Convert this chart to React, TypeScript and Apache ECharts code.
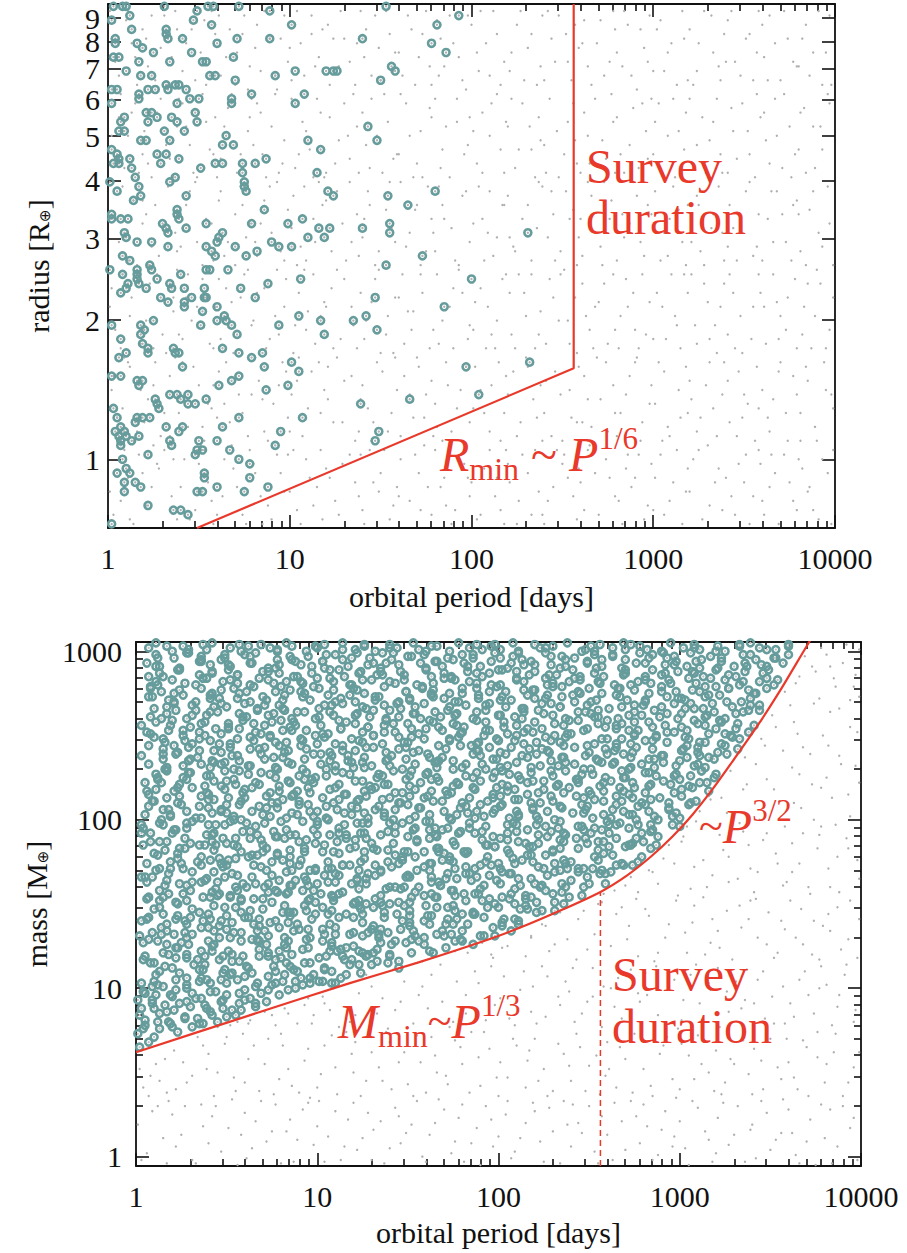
import React, { useEffect, useRef } from 'react';
import * as echarts from 'echarts';

const SERIF = 'Liberation Serif';
const RED = '#e8392b';
const TEAL = '#679c9c';
const GRAY = '#b0b0b0';
const INK = '#111111';

// axis ticks
const X_TICKS = [1, 10, 100, 1000, 10000];
const X_MINOR = [2, 3, 4, 5, 6, 7, 8, 9, 20, 30, 40, 50, 60, 70, 80, 90, 200, 300, 400, 500, 600, 700, 800, 900, 2000, 3000, 4000, 5000, 6000, 7000, 8000, 9000];
const RADIUS_TICKS = [1, 2, 3, 4, 5, 6, 7, 8, 9];
const RADIUS_LABELS_A = [1, 2, 3, 4, 5, 6, 7, 9];
const RADIUS_LABELS_B = [8];
const MASS_TICKS = [1, 10, 100, 1000];
const MASS_MINOR = [2, 3, 4, 5, 6, 7, 8, 9, 20, 30, 40, 50, 60, 70, 80, 90, 200, 300, 400, 500, 600, 700, 800, 900];

// ranges
const P_RANGE = [1, 10000];
const R_RANGE = [0.71, 9.66];
const M_RANGE = [0.88, 1135];
const SURVEY_DAYS = 365;

// Planets, flat pairs in hundredths of a decade: log10(P)*100, log10(R or M)*100
const radiusDetected = [
3,98, 8,98, 10,98, 12,96, 31,98, 49,97, 55,98, 58,98, 72,98, 89,97, 101,94, 2,95, 13,93, 32,93, 32,92, 33,91, 41,91, 47,95, 57,94, 71,91,
89,91, 4,91, 4,90, 16,90, 19,89, 25,88, 3,87, 6,87, 17,86, 34,86, 46,88, 52,86, 54,86, 60,90, 69,87, 10,84, 18,83, 24,83, 92,83, 103,84,
120,84, 126,84, 2,80, 5,80, 17,79, 17,78, 22,80, 26,80, 32,81, 33,80, 37,81, 39,81, 43,80, 45,78, 50,78, 56,83, 59,83, 70,82, 79,79, 68,78,
68,77, 103,77, 108,79, 2,77, 21,75, 24,75, 27,74, 22,73, 35,74, 38,73, 38,77, 48,75, 49,73, 7,73, 9,74, 6,71, 9,71, 31,71, 34,69, 42,71,
18,69, 21,69, 63,68, 65,70, 69,68, 110,69, 117,67, 2,67, 5,66, 6,65, 12,65, 6,64, 3,64, 27,66, 29,64, 32,66, 39,65, 51,63, 59,64, 63,64,
74,64, 74,62, 81,64, 87,65, 115,62, 13,63, 15,61, 17,59, 34,60, 37,61, 1,60, 5,58, 75,60, 75,59, 76,58, 43,57, 18,57, 14,56, 38,54, 38,53,
39,52, 43,50, 54,51, 63,49, 61,48, 60,47, 79,51, 86,54, 107,52, 121,58, 124,57, 2,53, 2,52, 7,52, 11,52, 9,49, 10,48, 16,47, 24,47, 30,51,
32,50, 33,49, 33,46, 54,46, 57,45, 59,44, 54,41, 56,41, 66,41, 70,46, 76,44, 82,45, 90,47, 94,46, 99,51, 101,46, 110,48, 119,48, 122,50, 116,50,
1,41, 8,44, 12,43, 16,41, 16,40, 23,42, 24,41, 8,40, 7,36, 11,38, 10,37, 16,39, 17,38, 21,37, 27,39, 29,35, 33,34, 34,38, 35,37, 40,40,
42,37, 42,34, 42,33, 46,35, 53,35, 54,35, 52,32, 53,37, 60,33, 60,30, 64,31, 65,30, 68,29, 71,27, 73,37, 81,35, 88,38, 94,29, 106,39, 105,31,
117,30, 119,27, 2,29, 7,26, 18,29, 20,28, 18,27, 19,25, 22,24, 22,23, 25,30, 6,22, 10,23, 36,24, 37,23, 39,23, 41,20, 51,29, 63,24, 72,23,
79,22, 85,23, 86,20, 101,21, 105,19, 2,18, 7,18, 16,17, 17,16, 19,17, 26,13, 27,12, 28,11, 34,14, 38,14, 40,13, 44,14, 44,12, 48,12, 54,13,
61,16, 68,17, 72,18, 87,15, 99,16, 107,9, 3,11, 5,9, 7,7, 9,6, 15,8, 16,9, 19,9, 23,9, 32,7, 39,6, 41,7, 63,7, 72,9, 4,6,
6,5, 10,5, 7,4, 7,3, 13,4, 17,5, 22,1, 34,4, 35,3, 48,1, 49,2, 50,4, 52,2, 60,4, 67,2, 72,0, 78,-1, 92,3, 95,6, 8,0,
10,-2, 12,-3, 5,-3, 9,-5, 9,-7, 15,-5, 18,-6, 22,-10, 36,-11, 40,-11, 44,-12, 49,-7, 53,-4, 53,-3, 52,-7, 60,-6, 75,-7, 78,-4, 88,-6, 2,-14,
153,98, 193,96, 181,94, 140,91, 178,90, 186,88, 156,85, 158,84, 150,82, 124,84, 143,72, 148,69, 154,57, 165,55, 180,58, 140,50, 155,51, 155,49, 231,49, 173,44,
153,42, 200,39, 147,35, 142,31, 135,30, 148,28, 185,33, 197,20, 232,21, 139,12, 166,13, 204,14, 149,6, 147,4
];

const radiusUndetected = [
3,-12, 11,-4, 17,1, 7,-9, 14,-14, 24,-6, 31,2, 38,-13, 27,-1, 35,-8, 42,0, 48,-11, 55,-5, 51,3, 58,-14, 63,-8, 69,-2, 74,-12, 78,2, 66,-15,
81,-3, 88,-10, 93,1, 97,-7, 85,-14, 104,-11, 109,0, 115,-6, 118,-13, 102,2, 122,-4, 127,-12, 133,1, 138,-8, 129,-1, 141,-14, 146,-5, 152,2, 157,-10, 149,-7,
161,0, 166,-9, 171,-3, 178,-12, 174,3, 183,-6, 189,-14, 194,1, 198,-4, 186,-10, 203,-13, 207,-2, 213,-8, 219,2, 216,-11, 221,-5, 228,1, 233,-12, 237,-7, 225,-14,
242,-9, 247,2, 253,-4, 258,-13, 250,-1, 262,-11, 268,-3, 274,0, 279,-8, 265,3, 283,-14, 288,-6, 292,1, 297,-10, 285,-2, 301,-4, 306,-12, 313,2, 318,-7, 309,-9,
322,0, 327,-13, 334,-5, 338,-11, 330,3, 343,-8, 347,-1, 353,-14, 358,2, 350,-5, 361,-12, 367,-3, 372,1, 377,-9, 364,-6, 382,-2, 388,-11, 393,0, 398,-14, 385,-7,
5,9, 12,20, 2,15, 16,6, 9,22, 22,13, 29,5, 34,18, 39,10, 26,21, 44,7, 50,16, 57,11, 41,21, 53,4, 61,19, 67,8, 72,14, 77,5, 64,12,
83,17, 86,6, 91,12, 96,21, 99,9, 101,14, 107,5, 112,19, 117,10, 105,22, 124,8, 130,17, 136,4, 139,13, 121,20, 143,11, 148,21, 154,6, 159,15, 145,4,
163,18, 168,9, 175,14, 179,5, 170,22, 181,7, 187,16, 192,11, 197,20, 184,4, 205,15, 210,6, 215,21, 218,10, 201,11, 223,19, 227,8, 234,13, 239,4, 230,22,
244,5, 249,14, 255,9, 259,20, 241,17, 264,13, 269,22, 275,6, 278,16, 261,8, 282,10, 287,18, 293,4, 298,12, 290,21, 303,21, 308,7, 314,15, 319,10, 305,4,
324,6, 329,16, 333,11, 339,21, 321,13, 341,17, 346,5, 352,12, 357,20, 349,9, 363,9, 369,19, 374,4, 379,14, 366,13, 384,20, 389,7, 395,15, 399,11, 381,4,
4,28, 13,35, 8,40, 18,25, 1,33, 23,38, 30,27, 36,32, 25,24, 38,41, 46,30, 52,39, 56,25, 43,35, 59,33, 62,26, 68,34, 75,40, 79,29, 65,37,
82,36, 87,24, 92,31, 98,39, 94,27, 103,29, 108,41, 114,25, 119,34, 110,32, 123,37, 128,26, 134,33, 137,24, 126,41, 142,30, 147,39, 153,27, 158,35, 150,23,
162,40, 167,28, 173,36, 177,24, 165,32, 182,25, 188,33, 193,41, 199,29, 190,37, 202,34, 208,24, 214,30, 217,39, 211,27, 222,27, 229,36, 235,24, 238,32, 226,40,
243,39, 248,30, 254,25, 257,35, 251,41, 263,31, 267,24, 273,38, 279,28, 270,34, 281,24, 286,33, 294,40, 296,27, 289,36, 302,36, 307,26, 312,31, 317,40, 315,24,
323,29, 328,38, 335,23, 337,33, 331,26, 342,40, 348,31, 354,26, 359,36, 345,24, 362,25, 368,34, 373,28, 378,39, 370,31, 383,33, 387,24, 392,38, 397,28, 390,41,
6,47, 14,56, 3,60, 11,43, 19,51, 21,53, 28,44, 33,59, 37,49, 24,46, 45,58, 49,47, 54,52, 58,43, 41,50, 64,44, 70,53, 73,59, 76,48, 61,56,
84,51, 89,59, 95,45, 99,54, 81,47, 102,57, 106,46, 113,52, 116,60, 109,43, 121,48, 126,58, 131,43, 137,53, 134,47, 144,55, 149,45, 155,60, 156,50, 141,52,
164,46, 169,54, 172,42, 176,59, 179,49, 185,52, 191,43, 195,57, 199,47, 182,59, 204,59, 209,49, 212,44, 218,55, 206,52, 224,45, 231,55, 236,50, 239,59, 221,48,
245,53, 246,43, 252,58, 259,48, 256,54, 266,57, 271,46, 276,52, 261,44, 273,60, 284,48, 291,57, 295,44, 299,53, 287,51, 304,43, 309,52, 311,59, 316,47, 319,55,
325,55, 326,45, 332,50, 336,59, 339,43, 344,50, 351,58, 355,44, 358,53, 341,46, 365,58, 366,47, 371,53, 376,43, 379,56, 381,45, 386,54, 391,49, 396,59, 399,42,
2,70, 9,63, 15,77, 19,66, 6,74, 22,64, 27,75, 32,68, 39,78, 36,61, 43,72, 47,62, 52,79, 56,67, 59,74, 62,65, 66,76, 71,62, 77,71, 79,78,
82,77, 85,66, 90,72, 94,62, 97,69, 103,63, 107,73, 111,67, 115,78, 119,61, 122,74, 125,64, 132,70, 135,79, 138,62, 142,68, 145,78, 151,62, 154,73, 159,66,
161,79, 166,70, 170,64, 177,76, 173,61, 183,63, 186,72, 192,78, 196,66, 199,74, 201,71, 206,62, 211,77, 216,67, 219,73, 222,78, 226,67, 232,72, 235,61, 238,69,
241,62, 247,71, 251,66, 256,77, 258,64, 262,75, 265,64, 272,69, 277,79, 279,62, 282,66, 289,76, 292,63, 296,71, 299,78, 301,73, 305,62, 311,78, 317,67, 314,71,
321,64, 327,74, 331,69, 338,62, 335,78, 343,76, 346,65, 352,71, 356,61, 359,74, 362,69, 367,78, 371,63, 375,72, 378,66, 384,62, 388,72, 393,67, 397,77, 381,75,
4,86, 10,95, 16,81, 13,90, 1,97, 21,91, 26,82, 31,96, 35,87, 38,93, 41,84, 46,93, 51,88, 57,97, 54,81, 61,96, 65,87, 70,81, 74,92, 78,85,
81,89, 86,97, 92,83, 95,91, 99,86, 101,82, 106,90, 112,96, 114,85, 118,93, 121,94, 127,85, 130,91, 136,81, 139,97, 141,87, 147,96, 150,82, 155,92, 158,88,
162,83, 167,93, 171,87, 175,97, 178,81, 181,95, 185,85, 190,90, 195,82, 198,96, 203,88, 205,97, 210,83, 214,92, 218,86, 221,84, 225,94, 231,89, 236,81, 239,96,
242,97, 246,86, 252,92, 255,82, 259,89, 261,90, 266,81, 271,95, 276,86, 279,93, 283,85, 286,94, 291,80, 295,89, 298,96, 302,93, 306,84, 310,90, 316,97, 319,82,
322,81, 325,90, 332,96, 336,85, 339,92, 341,95, 345,86, 351,91, 355,82, 358,97, 361,87, 364,96, 370,82, 374,91, 379,85, 382,91, 386,83, 391,97, 395,88, 398,81
];

const radiusUndetectedMore = [
1,-7, 6,0, 12,-13, 19,-3, 9,2, 21,-10, 28,-2, 33,-15, 36,0, 25,3, 40,-6, 45,-13, 50,-1, 57,-9, 53,2, 60,-12, 64,0, 71,-6, 76,-14, 68,3,
80,-1, 84,-8, 90,-13, 95,-3, 99,1, 100,-7, 106,-14, 111,-4, 117,2, 113,-10, 120,-2, 125,-9, 131,-15, 136,-5, 139,1, 140,-11, 144,2, 150,-3, 155,-13, 159,-6,
160,-8, 164,-15, 169,1, 176,-6, 172,-11, 180,2, 185,-4, 191,-11, 196,-1, 199,-8, 200,-5, 205,-12, 210,2, 214,-4, 218,-14, 220,-1, 226,-9, 231,-3, 235,2, 239,-12,
240,-14, 245,-6, 251,1, 256,-8, 259,-2, 260,-5, 264,2, 270,-12, 276,-4, 272,-15, 281,-9, 286,1, 290,-4, 295,-13, 299,-1, 300,-11, 304,1, 311,-5, 316,-14, 319,-2,
320,-7, 325,2, 331,-10, 336,-2, 339,-15, 340,-4, 345,-12, 351,1, 355,-8, 359,-1, 360,-9, 365,1, 369,-14, 375,-5, 379,-11, 380,0, 386,-6, 391,-13, 396,-3, 399,2,
3,18, 8,11, 14,4, 18,15, 11,21, 20,8, 25,16, 31,10, 37,22, 34,5, 42,14, 47,20, 52,7, 58,16, 55,12, 60,9, 65,21, 70,17, 74,10, 79,14,
81,22, 85,13, 88,4, 94,16, 98,19, 100,6, 104,17, 110,11, 116,21, 119,15, 121,13, 126,22, 129,8, 134,18, 138,6, 140,16, 146,8, 151,19, 156,10, 158,22,
161,5, 166,14, 171,20, 174,9, 178,17, 180,12, 186,21, 189,6, 194,15, 199,8, 202,20, 207,10, 211,16, 216,4, 219,18, 220,14, 225,5, 231,20, 236,9, 238,16,
240,10, 246,19, 250,4, 254,15, 258,8, 262,18, 266,7, 271,13, 274,21, 279,10, 280,5, 285,14, 291,22, 294,8, 299,16, 301,12, 306,19, 309,5, 315,9, 318,20,
320,17, 326,9, 331,21, 335,5, 338,14, 342,8, 347,19, 350,14, 356,4, 358,11, 360,15, 364,6, 370,21, 373,10, 377,18, 381,10, 385,17, 390,4, 394,21, 398,14,
2,37, 7,24, 12,31, 17,40, 19,28, 21,30, 27,40, 32,23, 36,35, 39,27, 41,26, 44,40, 49,33, 55,37, 58,24, 61,39, 66,29, 69,23, 73,35, 77,41,
80,30, 86,37, 89,26, 93,41, 97,33, 102,23, 105,36, 109,28, 113,40, 117,31, 120,33, 124,24, 130,39, 135,29, 139,36, 141,26, 145,34, 149,41, 154,31, 157,23,
160,35, 163,25, 168,32, 172,40, 179,28, 181,40, 184,30, 190,24, 195,36, 198,26, 201,28, 205,37, 209,33, 213,24, 219,40, 221,36, 224,24, 230,31, 233,40, 237,27,
241,25, 245,35, 249,40, 253,30, 258,23, 261,38, 265,28, 268,33, 275,25, 278,40, 282,31, 285,39, 290,28, 292,24, 298,34, 300,26, 305,33, 310,40, 313,29, 319,36,
321,40, 324,25, 330,34, 334,29, 339,38, 341,27, 344,36, 349,23, 355,33, 358,40, 361,33, 366,40, 369,26, 374,35, 379,24, 382,27, 385,38, 389,31, 395,24, 399,35,
1,52, 8,59, 12,48, 16,42, 19,56, 22,42, 26,55, 30,50, 35,60, 38,45, 40,46, 43,55, 48,60, 52,42, 57,51, 62,58, 66,47, 70,42, 74,55, 78,51,
82,44, 86,56, 90,49, 93,60, 97,43, 101,50, 104,42, 108,59, 114,47, 118,55, 120,56, 123,45, 129,51, 133,60, 138,44, 140,48, 143,58, 147,42, 153,54, 158,47,
161,60, 166,49, 170,55, 175,45, 178,52, 180,45, 184,55, 189,50, 193,42, 197,58, 201,51, 207,43, 210,58, 214,48, 217,55, 220,57, 223,46, 228,52, 233,43, 237,60,
242,48, 244,58, 249,45, 254,52, 258,42, 260,52, 264,60, 268,49, 272,42, 277,56, 280,43, 283,53, 289,60, 293,47, 297,55, 301,58, 306,49, 308,44, 314,54, 318,42,
321,47, 324,57, 328,42, 333,53, 338,49, 342,55, 346,43, 349,49, 353,60, 357,46, 360,43, 363,52, 368,58, 373,47, 377,55, 380,53, 384,42, 388,58, 393,46, 397,51,
4,65, 7,79, 11,70, 17,62, 13,75, 20,71, 24,61, 29,78, 34,65, 38,72, 41,77, 45,68, 49,61, 54,73, 58,66, 60,61, 64,72, 68,79, 73,66, 78,74,
80,68, 84,75, 87,61, 92,79, 96,64, 101,78, 105,66, 109,71, 113,61, 117,75, 120,62, 127,69, 130,77, 133,65, 137,72, 140,75, 144,63, 148,70, 152,79, 157,65,
160,66, 164,77, 168,61, 172,71, 178,74, 180,78, 184,67, 188,61, 192,73, 198,68, 203,64, 206,75, 210,70, 214,79, 218,62, 220,72, 224,63, 228,77, 233,67, 237,74,
240,68, 243,78, 248,61, 253,73, 257,69, 260,62, 264,70, 268,78, 274,65, 278,73, 280,74, 284,62, 287,68, 294,77, 297,65, 300,66, 303,77, 308,70, 312,61, 318,75,
320,78, 324,68, 329,62, 333,73, 337,66, 341,62, 344,71, 349,77, 353,66, 357,79, 361,75, 364,64, 368,70, 372,79, 376,61, 380,67, 383,76, 389,63, 392,72, 396,79,
2,91, 6,83, 11,97, 15,87, 19,93, 22,85, 24,96, 29,89, 33,81, 37,97, 43,90, 48,82, 53,95, 56,86, 59,92, 62,83, 67,93, 71,88, 75,96, 77,80,
82,94, 84,84, 89,91, 93,80, 97,96, 100,89, 104,97, 108,83, 112,92, 116,87, 122,81, 124,91, 128,97, 133,86, 137,90, 142,93, 145,83, 149,89, 153,97, 157,84,
160,88, 165,96, 169,81, 173,92, 177,85, 182,83, 183,91, 188,96, 193,87, 197,80, 200,94, 204,84, 208,90, 212,97, 216,81, 222,88, 227,97, 229,82, 233,92, 238,85,
240,82, 244,91, 248,96, 253,86, 257,94, 262,95, 264,85, 269,90, 273,83, 278,97, 280,88, 284,97, 288,83, 293,93, 297,86, 300,84, 304,95, 308,88, 313,81, 317,91,
320,93, 324,84, 328,97, 333,88, 337,82, 340,86, 343,97, 348,83, 353,92, 357,88, 360,94, 363,82, 367,90, 372,97, 377,86, 380,85, 384,94, 388,88, 393,81, 397,96
];

const massDetected = [
2,65, 7,68,
1,73, 5,78, 10,71, 13,76, 19,79, 23,74, 31,77, 37,79,
2,84, 5,81, 10,88, 13,85, 18,80, 21,87, 27,83, 30,89, 34,82, 41,86, 45,80, 48,88, 55,84, 58,87, 66,89,
1,93, 4,98, 9,91, 11,96, 16,90, 20,95, 22,99, 28,92, 31,97, 36,94, 38,90, 44,98, 48,93, 50,96, 57,91, 60,99, 63,94, 69,97, 72,92, 79,96, 84,99,
3,103, 9,101, 10,104, 15,101, 22,105, 24,109, 28,102, 36,106, 39,105, 41,103, 47,105, 52,108, 53,109, 60,107, 64,109, 67,103, 75,102, 77,103, 82,108, 88,104, 91,106, 92,102, 96,106, 103,104, 108,103, 110,103, 116,108, 124,109,
4,117, 5,119, 10,115, 13,110, 20,112, 22,118, 28,118, 32,114, 37,111, 38,119, 46,117, 49,111, 53,116, 59,119, 61,113, 68,119, 73,119, 76,113, 77,117, 83,115, 87,111, 89,110, 96,115, 101,118, 104,112, 108,110, 114,119, 115,117, 123,114, 127,119, 130,114, 133,116, 139,115, 140,119, 145,112,
4,127, 12,128, 15,121, 17,126, 23,124, 28,120, 29,126, 36,122, 40,128, 43,126, 51,122, 53,120, 58,128, 64,129, 67,129, 68,128, 72,126, 79,122, 84,128, 86,120, 92,123, 95,124, 103,128, 107,122, 108,125, 113,123, 116,124, 123,122, 125,121, 131,121, 135,127, 140,120, 141,126, 149,127, 152,129, 156,128, 162,122, 164,121, 171,124, 176,128, 180,128, 186,126,
2,131, 9,133, 14,132, 17,138, 21,132, 27,133, 28,130, 36,136, 40,136, 43,134, 46,137, 52,130, 53,139, 58,133, 65,138, 67,134, 71,134, 79,136, 82,130, 84,139, 90,135, 95,135, 96,130, 103,135, 107,138, 110,132, 118,132, 120,133, 125,131, 131,137, 134,132, 135,135, 139,133, 146,135, 151,139, 153,134, 159,130, 162,138, 170,131, 174,132, 175,138, 180,134, 183,138, 190,131, 192,131, 198,131, 202,137, 207,134, 211,138,
3,140, 7,142, 13,148, 15,144, 22,141, 27,140, 30,142, 31,147, 37,140, 41,141, 43,149, 50,143, 55,148, 58,145, 62,142, 68,141, 70,147, 77,140, 81,145, 84,145, 87,145, 93,149, 94,146, 99,144, 106,144, 108,146, 112,142, 120,142, 123,149, 125,144, 131,148, 136,149, 137,145, 144,144, 148,149, 151,143, 159,140, 161,143, 166,148, 172,141, 175,149, 176,146, 180,144, 187,144, 192,142, 194,148, 200,148, 203,141, 211,140, 215,149, 216,147, 221,145, 224,146, 231,146,
6,153, 7,154, 15,154, 18,156, 22,151, 28,152, 30,158, 37,154, 42,157, 45,155, 46,156, 52,154, 56,158, 58,152, 65,153, 70,153, 73,157, 77,158, 83,156, 84,157, 92,158, 96,153, 99,151, 102,156, 108,155, 109,152, 114,157, 121,151, 123,152, 127,150, 135,151, 138,159, 140,150, 146,159, 151,151, 152,154, 159,155, 163,156, 166,154, 174,158, 176,155, 181,156, 187,156, 190,159, 191,152, 195,153, 202,154, 207,156, 209,150, 215,153, 218,154, 226,158, 230,156, 231,151, 236,150, 239,154, 246,155,
5,166, 9,166, 17,164, 18,168, 24,162, 28,161, 31,163, 36,163, 43,169, 45,163, 49,166, 55,160, 56,167, 59,162, 64,166, 71,160, 73,162, 79,164, 83,169, 86,161, 94,164, 95,161, 100,162, 104,167, 110,163, 112,167, 119,162, 122,164, 127,165, 128,168, 132,167, 140,160, 143,160, 149,166, 151,166, 156,160, 163,166, 167,163, 168,161, 171,165, 177,165, 182,168, 184,168, 192,161, 195,167, 199,164, 206,168, 207,168, 212,161, 218,165, 220,162, 223,160, 231,169, 235,162, 237,160, 244,169, 249,166, 250,162, 256,168, 259,162, 262,169,
6,174, 11,170, 12,179, 19,171, 23,177, 26,171, 34,175, 36,173, 41,176, 47,174, 50,173, 51,176, 55,177, 62,178, 67,179, 69,172, 75,175, 78,179, 86,170, 90,173, 91,176, 96,170, 99,170, 106,171, 108,171, 114,173, 118,173, 123,170, 124,175, 132,173, 135,170, 139,175, 145,174, 147,178, 154,178, 159,172, 162,170, 163,174, 169,176, 173,176, 175,175, 182,172, 187,171, 190,173, 194,178, 200,174, 201,171, 209,174, 213,176, 216,179, 219,175, 225,171, 226,179, 231,174, 238,171, 240,175, 244,171, 252,171, 255,176, 257,170, 263,179, 268,174, 269,173, 274,173, 279,178,
4,185, 8,187, 16,182, 17,187, 23,180, 27,183, 30,186, 35,185, 42,187, 44,185, 48,189, 54,185, 55,189, 58,181, 63,189, 70,185, 72,183, 78,180, 82,189, 85,182, 93,181, 94,188, 99,186, 103,181, 109,181, 111,187, 118,183, 121,188, 126,181, 127,189, 131,183, 139,182, 142,186, 148,181, 150,181, 155,187, 162,189, 166,183, 167,181, 170,180, 176,185, 181,181, 183,181, 191,188, 194,185, 198,184, 205,188, 206,180, 211,187, 217,184, 219,184, 222,186, 230,182, 234,183, 236,187, 243,189, 248,189, 249,186, 255,182, 258,187, 261,184, 265,189, 273,185, 274,186, 280,187, 284,183, 287,185,
3,197, 4,195, 8,192, 15,197, 20,192, 22,194, 28,198, 31,199, 39,191, 43,192, 44,197, 49,197, 52,199, 59,193, 61,198, 67,191, 71,198, 76,193, 77,190, 85,191, 88,191, 92,199, 98,194, 100,199, 107,191, 112,192, 115,197, 116,191, 122,198, 126,192, 128,198, 135,191, 140,198, 143,192, 147,198, 153,194, 154,195, 162,199, 166,190, 169,194, 172,195, 178,192, 179,193, 184,195, 191,193, 193,196, 197,190, 205,192, 208,198, 210,197, 216,194, 221,197, 222,191, 229,193, 233,195, 236,192, 244,196, 246,196, 251,192, 257,194, 260,199, 261,197, 265,197, 272,195, 277,197, 279,192, 285,194, 288,190, 296,197, 300,196,
5,203, 7,208, 14,200, 18,206, 19,202, 25,209, 28,205, 36,201, 40,207, 42,204, 47,206, 54,202, 57,209, 58,200, 64,205, 68,208, 70,203, 78,207, 83,201, 86,204, 90,209, 96,205, 98,202, 105,208, 106,200, 111,206, 119,203, 122,207, 126,204, 128,201, 134,208, 137,204, 142,200, 143,206, 150,209, 154,202, 156,207, 162,203, 170,205, 173,201, 174,200, 179,207, 183,204, 190,209, 192,202, 198,206, 201,208, 206,201, 210,205, 211,203, 219,207, 221,202, 227,205, 231,200, 234,208, 241,204, 246,209, 248,206, 252,201, 258,203, 263,206, 265,209, 272,203, 276,200, 277,208, 283,205, 286,202, 294,207, 298,204, 300,201, 305,209,
7,215, 10,211, 11,218, 17,213, 21,217, 23,210, 31,219, 36,214, 39,216, 43,212, 49,218, 51,213, 58,211, 59,216, 64,219, 72,214, 75,210, 79,217, 81,212, 87,215, 90,211, 95,219, 96,216, 103,213, 107,218, 109,210, 115,215, 123,212, 126,217, 127,214, 132,219, 136,212, 143,216, 145,210, 151,214, 154,218, 159,213, 163,217, 164,211, 172,215, 174,216, 180,210, 184,213, 187,218, 194,211, 199,219, 201,214, 205,217, 211,212, 216,215, 218,210, 225,218, 229,214, 230,211, 236,216, 239,219, 247,213, 251,215, 253,212, 258,217, 265,214, 268,211, 269,217, 275,219, 279,210, 281,216, 289,213, 294,210, 297,216, 301,214, 307,219, 309,211, 316,217,
5,222, 11,227, 12,224, 17,229, 24,221, 26,225, 30,228, 38,220, 41,226, 43,223, 49,229, 54,224, 55,221, 62,227, 66,222, 69,228, 77,225, 79,220, 84,223, 90,226, 93,224, 94,228, 98,222, 105,226, 110,229, 112,221, 118,227, 121,223, 129,220, 133,225, 134,227, 139,221, 142,229, 149,224, 151,226, 157,222, 161,228, 166,225, 167,223, 175,220, 178,221, 182,226, 188,228, 190,223, 197,225, 202,229, 205,220, 206,227, 212,224, 216,222, 218,228, 225,223, 230,226, 233,221, 237,229, 243,224, 244,222, 252,227, 256,220, 259,225, 262,223, 268,229, 269,225, 274,222, 281,228, 283,220, 287,226, 295,221, 298,227, 300,224, 306,226, 311,222, 312,229, 319,225,
3,238, 7,233, 15,236, 16,230, 22,239, 26,232, 29,235, 34,237, 41,231, 43,234, 47,233, 53,238, 54,230, 57,235, 62,232, 69,239, 71,236, 77,231, 81,237, 84,234, 92,230, 93,236, 98,239, 102,233, 108,238, 110,232, 117,235, 120,231, 125,234, 126,237, 130,232, 138,235, 141,238, 147,230, 149,236, 154,233, 161,239, 165,234, 166,231, 169,237, 175,235, 180,231, 182,233, 190,238, 193,230, 197,236, 204,239, 205,232, 210,234, 216,237, 218,231, 221,239, 229,235, 233,232, 235,237, 242,233, 247,230, 248,238, 254,236, 257,234, 260,239, 264,234, 272,230, 273,237, 279,233, 283,236, 286,231, 291,238, 298,232, 300,235, 304,237, 310,233, 311,238, 314,231, 319,236, 326,239,
7,244, 10,249, 15,242, 16,246, 23,240, 27,247, 29,243, 35,248, 43,241, 46,245, 47,240, 52,245, 56,248, 63,242, 65,247, 71,243, 74,249, 79,244, 83,246, 84,241, 92,247, 94,242, 100,245, 104,249, 107,240, 114,244, 119,248, 121,241, 125,246, 131,243, 136,245, 138,240, 145,249, 149,243, 150,246, 156,241, 159,248, 167,244, 171,242, 173,247, 178,249, 185,244, 188,241, 189,246, 195,243, 199,248, 201,240, 209,247, 214,245, 217,242, 221,246, 227,241, 229,247, 236,244, 237,249, 242,243, 250,240, 253,245, 257,248, 259,242, 265,243, 268,248, 273,245, 274,240, 281,247, 285,242, 287,249, 293,246, 301,241, 304,244, 305,248, 310,243, 314,246, 321,240, 323,245, 329,249, 332,242,
3,256, 8,251, 11,258, 18,253, 20,259, 26,250, 30,255, 35,252, 36,257, 44,254, 47,251, 51,257, 57,254, 59,259, 66,252, 71,256, 74,250, 75,258, 81,253, 85,255, 87,258, 94,253, 99,250, 102,256, 106,251, 112,259, 113,254, 121,257, 125,252, 128,255, 131,250, 137,256, 138,259, 143,252, 150,257, 152,254, 156,251, 164,258, 167,255, 169,253, 175,257, 180,252, 181,255, 188,259, 192,250, 195,253, 203,258, 205,251, 210,256, 216,254, 219,252, 220,258, 224,254, 231,250, 236,256, 238,251, 244,259, 247,253, 255,257, 259,255, 260,259, 265,254, 268,257, 275,251, 277,253, 283,258, 287,250, 292,256, 293,252, 301,255, 304,253, 308,259, 314,256, 316,251, 323,258, 328,250, 331,254, 332,257, 338,252,
8,261, 10,266, 17,263, 21,269, 22,265, 28,260, 31,268, 39,262, 43,267, 45,264, 50,267, 57,263, 60,269, 61,261, 67,265, 71,268, 73,262, 81,266, 86,260, 89,264, 93,264, 99,260, 101,266, 108,268, 109,262, 114,269, 122,263, 125,267, 129,261, 131,265, 137,268, 140,265, 145,261, 146,266, 153,263, 157,260, 159,269, 165,264, 173,267, 176,262, 177,263, 182,268, 186,260, 193,265, 195,269, 201,262, 204,267, 209,261, 213,266, 214,264, 222,265, 224,269, 230,262, 234,267, 237,260, 244,264, 249,268, 251,263, 255,261, 261,266, 266,260, 268,267, 275,264, 279,262, 280,268, 286,265, 289,261, 297,269, 301,263, 303,266, 308,266, 315,262, 318,269, 319,264, 325,260, 329,267, 331,263, 339,268, 344,265,
8,279, 9,273, 14,276, 18,271, 24,277, 26,274, 33,270, 36,278, 41,272, 42,275, 46,272, 54,278, 57,275, 63,270, 65,279, 70,273, 77,276, 81,271, 82,274, 85,277, 91,276, 96,271, 98,279, 106,274, 109,277, 113,272, 120,278, 121,270, 126,275, 132,273, 134,273, 137,279, 145,270, 149,276, 151,271, 158,278, 163,274, 164,277, 170,272, 173,275, 176,270, 180,275, 188,278, 189,272, 195,276, 199,279, 202,273, 207,271, 214,277, 216,274, 220,277, 226,272, 227,274, 230,279, 235,273, 242,270, 244,276, 250,278, 254,271, 257,275, 265,274, 266,278, 271,271, 275,277, 281,270, 283,275, 290,279, 293,273, 298,276, 299,272, 303,271, 311,276, 314,273, 320,279, 322,274, 327,278, 334,270, 338,277, 339,272, 342,275, 348,278,
7,285, 12,280, 13,287, 20,283, 24,289, 27,281, 35,286, 37,284, 42,288, 48,282, 51,289, 52,283, 56,286, 63,280, 68,284, 70,288, 76,281, 79,287, 87,285, 91,282, 92,281, 97,287, 100,284, 107,289, 109,282, 115,285, 119,280, 124,288, 125,283, 133,286, 136,286, 140,282, 146,288, 148,283, 155,280, 160,289, 163,285, 164,281, 170,287, 174,284, 176,283, 183,288, 188,281, 191,285, 195,287, 201,280, 202,289, 210,284, 214,282, 217,286, 220,288, 226,284, 227,280, 232,286, 239,282, 241,289, 245,283, 253,287, 256,281, 258,285, 264,280, 269,286, 270,289, 277,282, 281,285, 284,281, 292,287, 294,283, 299,288, 305,284, 308,287, 309,281, 313,285, 320,289, 325,283, 327,286, 333,280, 336,288, 344,282, 348,284, 349,289, 354,283,
6,293, 11,298, 13,291, 21,296, 24,290, 28,299, 35,294, 36,297, 41,292, 47,295, 49,296, 52,291, 60,298, 64,293, 66,299, 73,290, 78,295, 79,292, 85,297, 88,294, 91,292, 95,297, 103,294, 104,290, 110,298, 114,295, 117,291, 122,299, 129,296, 131,293, 135,290, 141,295, 142,299, 145,292, 150,297, 157,293, 159,298, 165,294, 169,291, 172,296, 180,298, 181,293, 186,296, 190,291, 196,294, 198,299, 205,290, 208,297, 213,295, 214,292, 218,294, 226,299, 229,292, 235,297, 237,291, 242,296, 249,293, 253,298, 254,290, 257,295, 263,297, 268,290, 270,295, 278,299, 281,293, 285,298, 292,292, 293,296, 298,294, 304,291, 306,299, 309,294, 317,297, 321,290, 323,296, 330,291, 335,298, 336,293, 342,295, 345,292, 348,291, 352,296, 360,298,
7,302, 11,305, 20,300, 26,303, 29,301, 37,304, 42,305, 52,302, 58,300, 62,303, 69,304, 78,301, 83,305, 86,303, 94,300, 100,302, 104,304, 114,305, 121,301, 126,303, 132,300, 140,304, 144,302, 153,305, 156,301, 163,303, 173,300, 178,305, 184,302, 188,304, 196,303, 201,301, 208,305, 211,300, 220,304, 226,302, 230,303, 238,305, 248,301, 253,300, 256,304, 263,302, 269,305, 278,303, 282,301, 290,300, 295,305, 302,302, 308,304, 311,301, 321,303, 325,300, 333,304, 339,305, 344,302, 353,301, 360,303
];

const massDetectedMore = [
4,76, 12,80, 20,77, 27,82, 35,79, 42,84, 50,83,
3,88, 9,93, 17,86, 24,91, 33,94, 39,88, 47,92, 53,87, 60,93, 66,91,
5,97, 12,102, 19,96, 28,100, 35,104, 41,98, 50,103, 57,97, 66,101, 73,99, 81,104, 88,100, 96,103, 101,104,
11,108, 16,113, 28,106, 35,111, 38,114, 48,109, 56,105, 62,112, 73,107, 77,110, 85,113, 98,108, 104,111, 113,106, 118,114,
8,115, 18,120, 22,124, 34,117, 42,122, 48,119, 57,116, 68,123, 73,121, 80,118, 83,124, 93,115, 105,119, 111,122, 119,117, 128,120, 133,123, 145,116, 152,121,
7,129, 17,134, 25,127, 31,132, 42,125, 46,130, 54,133, 67,128, 73,131, 82,126, 87,134, 94,129, 104,132, 108,127, 120,125, 128,133, 134,130, 143,128, 154,131, 159,126, 166,132, 169,134, 179,129,
6,141, 14,136, 23,143, 28,138, 40,144, 47,140, 50,135, 60,142, 68,137, 74,139, 85,143, 89,138, 97,141, 110,136, 116,144, 125,139, 130,135, 137,142, 147,140, 151,137, 163,143, 171,138, 177,141, 186,144, 197,136, 202,139, 209,141,
10,147, 13,152, 23,150, 35,145, 41,154, 49,148, 58,153, 63,146, 75,151, 82,149, 85,145, 95,152, 103,148, 109,154, 120,150, 124,147, 132,153, 145,151, 151,146, 160,149, 165,154, 172,148, 182,152, 186,145, 198,150, 206,153, 212,147, 221,151,
6,163, 13,158, 16,161, 26,156, 38,164, 44,159, 52,155, 61,160, 66,162, 78,157, 85,161, 88,164, 98,158, 106,163, 112,156, 123,159, 127,162, 135,155, 148,160, 154,157, 163,163, 168,161, 175,158, 185,164, 189,156, 201,162, 209,159, 215,155, 224,161, 235,157, 240,164, 247,160,
3,166, 13,171, 25,174, 31,169, 39,165, 48,172, 53,168, 65,173, 72,170, 75,167, 85,174, 93,166, 99,171, 110,168, 114,173, 122,165, 135,169, 141,172, 150,167, 155,170, 162,174, 172,168, 176,171, 188,166, 196,173, 202,169, 211,165, 222,172, 227,167, 234,170, 237,174, 247,171, 259,168, 265,173,
10,180, 19,175, 24,183, 36,178, 43,182, 46,177, 56,184, 64,179, 70,181, 81,176, 85,178, 93,183, 106,175, 112,180, 121,184, 126,177, 133,182, 143,179, 147,176, 159,181, 167,183, 173,178, 182,180, 193,175, 198,184, 205,182, 208,177, 218,179, 230,181, 236,176, 244,183, 253,178, 258,180, 270,184, 277,175,
3,192, 13,187, 21,194, 27,189, 38,185, 42,191, 50,186, 63,193, 69,188, 78,190, 83,194, 90,187, 100,191, 104,185, 116,189, 124,192, 130,186, 139,193, 150,190, 155,188, 162,194, 165,191, 175,187, 187,192, 193,185, 201,189, 210,193, 215,186, 227,190, 234,188, 237,191, 247,194, 255,187, 261,192, 272,185, 276,189, 284,193,
13,198, 19,203, 28,195, 33,201, 40,197, 50,204, 54,200, 66,196, 74,202, 80,199, 89,203, 100,197, 105,201, 112,195, 115,204, 125,198, 137,202, 143,196, 151,200, 160,199, 165,195, 177,203, 184,198, 187,201, 197,204, 205,197, 211,202, 222,200, 226,196, 234,199, 247,204, 253,195, 262,201, 267,198, 274,203, 284,197, 288,200, 296,202,
9,211, 15,206, 24,214, 35,208, 40,212, 47,205, 50,209, 60,213, 72,207, 78,210, 86,214, 95,209, 100,205, 112,212, 119,208, 122,211, 132,206, 140,213, 146,210, 157,207, 161,214, 169,211, 182,208, 188,205, 197,213, 202,209, 209,212, 219,206, 223,210, 235,207, 243,214, 249,208, 258,211, 269,205, 274,213, 281,209, 284,212, 294,206, 306,210,
6,217, 14,222, 23,219, 28,224, 40,215, 47,220, 50,223, 60,218, 68,221, 74,216, 85,222, 89,217, 97,224, 110,219, 116,215, 125,223, 130,218, 137,221, 147,216, 151,220, 163,224, 171,217, 177,222, 186,219, 197,215, 202,221, 209,218, 219,223, 222,216, 232,220, 244,224, 250,217, 258,222, 267,219, 272,215, 284,221, 291,223, 301,218, 305,220, 315,222,
12,225, 17,231, 29,228, 36,233, 39,226, 49,234, 57,229, 63,232, 74,227, 78,230, 86,233, 99,225, 105,230, 114,228, 119,234, 126,231, 136,226, 140,232, 152,229, 160,227, 166,234, 175,230, 186,225, 191,233, 198,228, 201,231, 211,226, 223,232, 229,229, 237,234, 246,227, 251,230, 263,233, 270,225, 273,231, 283,228, 291,234, 297,226, 308,232, 312,229, 320,227,
15,239, 21,244, 30,236, 35,241, 42,235, 52,243, 56,238, 68,242, 76,237, 82,240, 91,244, 102,239, 107,235, 114,241, 117,238, 127,243, 139,236, 145,242, 153,240, 162,237, 167,235, 179,244, 186,239, 189,241, 199,236, 207,243, 213,238, 224,242, 228,240, 236,237, 249,244, 255,235, 264,241, 269,239, 276,243, 286,236, 290,238, 302,242, 310,240, 316,237, 325,244,
6,252, 15,248, 26,253, 31,245, 38,250, 41,247, 51,254, 63,249, 69,251, 77,246, 86,253, 91,248, 103,251, 110,245, 113,254, 123,247, 131,250, 137,252, 148,246, 152,249, 160,254, 173,248, 179,251, 188,245, 193,253, 200,247, 210,250, 214,252, 226,249, 234,246, 240,251, 249,254, 260,248, 265,245, 272,253, 275,250, 285,247, 297,252, 303,249, 311,246, 320,254, 325,251, 333,248,
14,260, 19,256, 31,262, 38,258, 41,264, 51,255, 59,261, 65,257, 76,263, 80,259, 88,256, 101,261, 107,264, 116,258, 121,262, 128,255, 138,260, 142,257, 154,263, 162,259, 168,261, 177,256, 188,264, 193,258, 200,262, 203,255, 213,260, 225,263, 231,257, 239,259, 248,264, 253,261, 265,256, 272,262, 275,258, 285,255, 293,263, 299,260, 310,257, 314,261, 322,259, 335,264, 341,256,
7,273, 17,267, 21,270, 33,265, 41,274, 47,269, 56,272, 67,266, 72,271, 79,268, 82,265, 92,273, 104,268, 110,270, 118,274, 127,266, 132,271, 144,269, 151,272, 154,267, 164,273, 172,265, 178,270, 189,274, 193,268, 201,271, 214,266, 220,272, 229,269, 234,267, 241,274, 251,270, 255,265, 267,273, 275,268, 281,271, 290,267, 301,272, 306,269, 313,266, 316,274, 326,270, 338,265, 344,268,
8,278, 11,282, 21,275, 33,280, 39,284, 47,277, 56,281, 61,276, 73,283, 80,279, 83,282, 93,275, 101,278, 107,284, 118,280, 122,277, 130,283, 143,281, 149,276, 158,279, 163,275, 170,284, 180,278, 184,282, 196,280, 204,276, 210,283, 219,277, 230,281, 235,279, 242,284, 245,275, 255,282, 267,278, 273,280, 281,283, 290,276, 295,281, 307,277, 314,279, 317,284, 327,278, 335,282, 341,275, 352,280,
11,291, 15,285, 23,289, 36,294, 42,287, 51,292, 56,286, 63,293, 73,288, 77,290, 89,285, 97,291, 103,294, 112,289, 123,287, 128,292, 135,288, 138,293, 148,286, 160,290, 166,294, 174,285, 183,291, 188,287, 200,289, 207,293, 210,288, 220,292, 228,286, 234,290, 245,285, 249,294, 257,291, 270,287, 276,293, 285,289, 290,286, 297,292, 307,288, 311,290, 323,294, 331,285, 337,291, 346,287, 357,293,
12,296, 17,303, 29,299, 36,295, 39,301, 49,298, 57,304, 63,297, 74,302, 78,300, 86,295, 99,303, 105,298, 114,301, 119,296, 126,304, 136,299, 140,302, 152,297, 160,300, 166,303, 175,295, 186,298, 191,301, 198,304, 201,296, 211,299, 223,302, 229,297, 237,295, 246,300, 251,303, 263,298, 270,301, 273,304, 283,296, 291,299, 297,297, 308,302, 312,295, 320,300, 333,303, 339,298, 348,301, 353,296, 360,304
];

const massUndetected = [
3,-2, 9,27, 15,11, 18,33, 22,6, 27,30, 33,-4, 37,18, 42,24, 47,3, 53,34, 58,13, 61,-1, 66,21, 72,9, 77,31, 83,15, 87,-3, 92,28, 98,7,
101,33, 106,12, 113,-2, 117,22, 122,4, 128,26, 131,16, 137,-4, 143,29, 146,8, 152,19, 158,0, 162,13, 167,34, 174,2, 178,23, 181,-3, 188,17, 193,30, 197,6,
204,25, 207,-1, 212,11, 219,32, 223,9, 228,29, 234,-4, 238,19, 241,31, 246,14, 253,3, 257,24, 263,-2, 268,21, 273,33, 278,8, 282,18, 288,1, 292,27, 297,12,
303,5, 307,33, 314,15, 318,-3, 321,23, 327,7, 332,30, 339,16, 342,-1, 348,26, 353,10, 357,34, 362,14, 366,-4, 372,22, 378,31, 383,28, 387,6, 394,17, 398,-2,
4,41, 11,55, 17,38, 8,48, 21,63, 28,44, 34,71, 39,52, 43,36, 49,67, 54,47, 59,73, 62,58, 68,39, 73,70, 79,46, 81,66, 86,42, 93,57, 96,35,
102,49, 108,72, 111,37, 119,61, 121,68, 127,45, 134,53, 138,74, 141,40, 148,62, 153,36, 157,56, 163,71, 166,50, 172,43, 179,65, 184,38, 189,59, 192,74, 199,47,
201,56, 208,70, 215,41, 217,63, 222,45, 227,36, 233,67, 239,54, 243,73, 248,39, 254,60, 259,48, 261,52, 267,65, 274,38, 279,72, 284,42, 289,61, 293,71, 298,35,
301,67, 308,46, 312,55, 319,39, 323,37, 328,58, 336,74, 338,49, 341,64, 346,40, 354,53, 359,70, 363,47, 368,69, 371,36, 376,59, 381,55, 386,73, 393,44, 399,62,
45,77, 56,80, 63,81, 71,86, 77,78, 82,88, 89,79, 95,94, 98,84, 104,91, 109,100, 116,82, 112,77, 123,97, 127,108, 133,85, 139,76, 142,111, 146,92, 153,79,
158,101, 161,88, 168,114, 173,77, 177,104, 182,96, 187,110, 193,81, 198,90, 203,107, 209,78, 212,99, 218,86, 224,113, 226,83, 233,95, 237,104, 242,80, 249,92, 252,112,
258,101, 264,89, 266,106, 273,77, 277,97, 281,109, 288,84, 294,100, 299,76, 302,93, 309,114, 313,81, 316,103, 322,77, 326,98, 334,88, 337,111, 343,105, 347,82, 351,95,
358,79, 361,91, 369,110, 374,85, 377,100, 384,78, 388,96, 391,108, 397,87,
158,116, 165,119, 176,122, 183,121, 191,127, 197,118, 202,124, 209,135, 215,119, 218,130, 224,138, 228,122, 234,145, 238,129, 243,117, 247,146, 253,132, 257,151,
262,125, 268,148, 272,137, 277,119, 283,143, 286,116, 292,130, 298,152, 304,121, 307,139, 313,154, 317,127, 321,134, 329,117, 333,149, 338,141, 342,153, 348,126, 352,118, 356,140,
364,130, 367,147, 373,120, 379,137, 382,144, 389,123, 394,152, 398,118,
258,156, 264,158, 273,166, 277,157, 283,170, 288,162, 294,185, 297,174, 302,190, 306,159, 313,176, 318,167, 324,182, 327,163, 335,193, 339,171, 341,157, 346,188, 354,174, 357,161,
362,169, 368,192, 372,156, 376,183, 383,160, 387,178, 392,189, 399,165,
304,196, 311,205, 316,214, 323,213, 328,229, 333,198, 337,221, 342,233, 347,204, 352,218, 358,196, 363,210, 366,227, 374,200, 378,219, 381,225, 386,197, 393,215, 397,232,
336,237, 345,248, 351,262, 357,241, 361,268, 365,251, 372,239, 377,272, 382,244, 388,266, 394,255, 399,273,
358,276, 364,281, 369,297, 375,288, 378,302, 383,291, 386,279, 392,304, 397,286
];

const massUndetectedMore = [
1,19, 6,2, 12,30, 17,-4, 20,25, 25,13, 31,-2, 36,31, 40,8, 44,30, 51,17, 56,-5, 60,26, 64,5, 69,33, 75,15, 80,-4, 85,22, 89,10, 95,32,
100,18, 104,-3, 110,27, 115,6, 120,32, 125,11, 130,-2, 135,21, 140,5, 145,24, 149,14, 155,33, 160,-3, 165,20, 170,28, 176,9, 180,31, 185,8, 190,-5, 196,22,
200,12, 205,33, 209,3, 215,20, 220,27, 225,-3, 230,15, 236,33, 240,6, 244,20, 250,30, 255,-4, 260,13, 264,32, 270,4, 276,24, 280,31, 285,-2, 290,16, 296,6,
300,21, 305,-5, 310,29, 316,10, 320,2, 324,32, 330,13, 336,-3, 340,19, 345,33, 350,4, 356,14, 360,28, 364,1, 370,9, 375,-5, 380,11, 384,-4, 390,30, 396,23,
2,52, 7,36, 13,45, 16,58, 22,40, 26,56, 31,48, 37,66, 40,61, 45,50, 50,71, 55,39, 60,44, 65,66, 71,55, 76,37, 80,73, 84,52, 90,38, 95,64,
100,41, 104,66, 110,53, 116,74, 120,50, 124,36, 130,62, 136,45, 140,68, 145,56, 150,43, 155,72, 160,38, 165,60, 171,48, 176,69, 180,55, 185,74, 190,42, 195,64,
200,36, 205,47, 210,66, 216,57, 220,70, 225,52, 230,39, 236,61, 240,45, 245,65, 250,54, 256,37, 260,68, 265,41, 270,58, 275,73, 280,52, 285,36, 291,66, 296,46,
300,40, 305,60, 310,72, 316,50, 320,63, 325,44, 330,55, 335,69, 340,37, 345,57, 350,70, 356,46, 360,56, 365,40, 370,65, 376,74, 380,44, 385,62, 390,36, 396,53,
52,78, 62,79, 75,84, 84,85, 93,90, 97,79, 103,95, 107,87, 118,80, 121,84, 130,101, 136,94, 143,87, 148,104, 156,96, 163,108, 169,92, 175,80,
182,85, 189,103, 196,113, 201,94, 206,82, 214,110, 219,101, 221,79, 227,107, 234,90, 239,98, 241,112, 246,85, 252,95, 257,77, 262,100, 268,82, 273,111, 278,92,
282,96, 287,113, 292,78, 297,105, 301,81, 306,108, 311,91, 317,99, 321,112, 327,86, 331,104, 336,93, 341,91, 346,110, 352,79, 357,101, 363,83, 366,105, 371,96, 378,113,
381,102, 387,89, 392,114, 396,80,
196,120, 205,125, 218,131, 226,137, 231,126, 244,141, 249,123, 255,150, 265,144, 271,129, 276,153, 281,147, 288,121, 294,138, 299,155, 303,133, 308,149, 314,120, 318,141,
322,124, 326,146, 334,136, 339,152, 343,130, 349,145, 354,121, 358,135, 361,152, 368,126, 374,140, 377,117, 383,134, 387,148, 393,129, 399,141,
270,161, 285,169, 291,177, 301,187, 308,172, 315,160, 322,191, 327,178, 332,165, 338,185, 343,169, 348,192, 353,180, 359,163, 362,186, 366,174, 371,160, 377,191,
382,171, 388,157, 393,183, 398,176,
309,199, 317,212, 321,226, 326,204, 335,218, 344,200, 348,224, 355,211, 362,231, 367,207, 373,221, 378,196, 384,213, 389,233, 394,202, 399,222,
347,244, 353,255, 363,258, 368,243, 374,269, 379,250, 383,264, 388,238, 394,271, 398,252,
366,285, 373,291, 381,298, 385,284, 390,293, 396,279, 399,301
];

// detection limits
const radiusLimit = [[3.09, 0.71], [365, 1.573], [365, 9.66]];
const massLimitLog = [0,62, 63,84, 118,103, 155,115, 192,128, 212,136, 236,147, 256,157, 271,167, 284,178, 296,190, 307,203, 318,218, 330,236, 343,256, 355,276, 370,303, 374,310];
const surveyMassTop = 37;

function toPairs(flat: number[]): number[][] {
  const out: number[][] = [];
  for (let i = 0; i + 1 < flat.length; i += 2) {
    out.push([Math.pow(10, flat[i] / 100), Math.pow(10, flat[i + 1] / 100)]);
  }
  return out;
}

const fmt = (v: number) => String(Math.round(v));
const AXIS_LINE = { show: true, onZero: false, lineStyle: { color: INK, width: 1.8 } };
const TICK_STYLE = { color: INK, width: 1.6 };

function makeX(grid: number, withLabels: boolean, position: string, minor: boolean, nameGap: number) {
  return {
    type: 'log', logBase: 10, gridIndex: grid, position,
    min: P_RANGE[0], max: P_RANGE[1],
    axisLine: minor ? { show: false } : AXIS_LINE,
    splitLine: { show: false }, minorTick: { show: false }, minorSplitLine: { show: false },
    axisTick: { show: true, inside: true, length: minor ? 7 : 13, customValues: minor ? X_MINOR : X_TICKS, lineStyle: TICK_STYLE },
    axisLabel: withLabels
      ? { show: true, customValues: X_TICKS, formatter: fmt, fontFamily: SERIF, fontSize: 30, color: INK, margin: 15, showMinLabel: true, showMaxLabel: true }
      : { show: false },
    name: withLabels ? 'orbital period [days]' : '',
    nameLocation: 'middle', nameGap,
    nameTextStyle: { fontFamily: SERIF, fontSize: 30, color: INK },
    silent: true,
  };
}

type YOpts = {
  grid: number; range: number[]; ticks: number[] | null; labels: number[] | null; position: string;
  minor?: boolean; line?: boolean; name?: string; nameGap?: number; margin?: number; sub?: string; lh?: number;
};

function makeY(o: YOpts) {
  return {
    type: 'log', logBase: 10, gridIndex: o.grid, position: o.position,
    min: o.range[0], max: o.range[1],
    axisLine: o.line === false || o.minor ? { show: false } : AXIS_LINE,
    splitLine: { show: false }, minorTick: { show: false }, minorSplitLine: { show: false },
    axisTick: o.ticks
      ? { show: true, inside: true, length: o.minor ? 7 : 13, customValues: o.ticks, lineStyle: TICK_STYLE }
      : { show: false },
    axisLabel: o.labels
      ? { show: true, customValues: o.labels, formatter: fmt, fontFamily: SERIF, fontSize: 30, lineHeight: o.lh || 30, color: INK, margin: o.margin || 8, showMinLabel: true, showMaxLabel: true, hideOverlap: false }
      : { show: false },
    name: o.name ? `{a|${o.name} [${o.sub}}{s|⊕}{a|]}` : '',
    nameLocation: 'middle', nameGap: o.nameGap || 0, nameRotate: 90,
    nameTextStyle: {
      fontFamily: SERIF, fontSize: 30, color: INK,
      rich: {
        a: { fontFamily: SERIF, fontSize: 30, color: INK },
        s: { fontFamily: 'DejaVu Sans', fontSize: 15, color: INK, padding: [14, 0, 0, 0] },
      },
    },
    silent: true,
  };
}

const RICH = {
  i: { fontFamily: SERIF, fontStyle: 'italic', fontSize: 48, lineHeight: 62, fill: RED },
  n: { fontFamily: SERIF, fontSize: 48, lineHeight: 62, fill: RED },
  t: { fontFamily: SERIF, fontSize: 44, lineHeight: 62, fill: RED },
  s: { fontFamily: SERIF, fontSize: 32, lineHeight: 32, fill: RED, verticalAlign: 'bottom' },
  p: { fontFamily: SERIF, fontSize: 31, lineHeight: 31, fill: RED, verticalAlign: 'top' },
};

function formula(x: number, y: number, text: string) {
  return {
    type: 'text', x, y, silent: true, z: 50,
    style: { text, rich: RICH, fill: RED, fontFamily: SERIF, fontSize: 48, align: 'left', verticalAlign: 'top' },
  };
}

function block(x: number, y: number, text: string, lineHeight: number) {
  return {
    type: 'text', x, y, silent: true, z: 50,
    style: { text, fill: RED, fontFamily: SERIF, fontSize: 48, lineHeight, align: 'left', verticalAlign: 'top' },
  };
}

export default function App() {
  const ref = useRef<HTMLDivElement>(null);

  useEffect(() => {
    if (!ref.current) return;
    const chart = echarts.init(ref.current, null, { renderer: 'svg' });

    const topDet = toPairs(radiusDetected);
    const topUnd = toPairs(radiusUndetected.concat(radiusUndetectedMore));
    const botDet = toPairs(massDetected.concat(massDetectedMore));
    const botUnd = toPairs(massUndetected.concat(massUndetectedMore));
    const massLimit = toPairs(massLimitLog);

    const dots = (data: number[][], xi: number, yi: number, color: string) => ({
      type: 'scatter', xAxisIndex: xi, yAxisIndex: yi, data,
      symbol: 'circle', symbolSize: 2.4, large: false, progressive: 0,
      itemStyle: { color, opacity: 1 }, silent: true, z: 2,
    });
    const rings = (data: number[][], xi: number, yi: number) => ({
      type: 'scatter', xAxisIndex: xi, yAxisIndex: yi, data,
      symbol: 'circle', symbolSize: 7, large: false, progressive: 0,
      itemStyle: { color: 'rgba(0,0,0,0)', borderColor: TEAL, borderWidth: 2.6, opacity: 1 },
      silent: true, z: 3,
    });

    chart.setOption({
      animation: false,
      backgroundColor: '#ffffff',
      grid: [
        { left: 108, top: 4, width: 727, height: 524, containLabel: false, outerBoundsMode: 'none' },
        { left: 136, top: 642, width: 725, height: 524, containLabel: false, outerBoundsMode: 'none' },
      ],
      xAxis: [
        makeX(0, true, 'bottom', false, 53),
        makeX(0, false, 'top', false, 0),
        makeX(0, false, 'bottom', true, 0),
        makeX(0, false, 'top', true, 0),
        makeX(1, true, 'bottom', false, 51),
        makeX(1, false, 'top', false, 0),
        makeX(1, false, 'bottom', true, 0),
        makeX(1, false, 'top', true, 0),
      ],
      yAxis: [
        makeY({ grid: 0, range: R_RANGE, ticks: RADIUS_TICKS, labels: RADIUS_LABELS_A, position: 'left', name: 'radius', nameGap: 55, margin: 8, sub: 'R', lh: 22 }),
        makeY({ grid: 0, range: R_RANGE, ticks: RADIUS_TICKS, labels: null, position: 'right' }),
        makeY({ grid: 1, range: M_RANGE, ticks: MASS_TICKS, labels: MASS_TICKS, position: 'left', name: 'mass', nameGap: 33, margin: 14, sub: 'M' }),
        makeY({ grid: 1, range: M_RANGE, ticks: MASS_TICKS, labels: null, position: 'right' }),
        makeY({ grid: 1, range: M_RANGE, ticks: MASS_MINOR, labels: null, position: 'left', minor: true }),
        makeY({ grid: 1, range: M_RANGE, ticks: MASS_MINOR, labels: null, position: 'right', minor: true }),
        makeY({ grid: 0, range: R_RANGE, ticks: null, labels: RADIUS_LABELS_B, position: 'left', line: false, margin: 8, lh: 22 }),
      ],
      series: [
        dots(topUnd, 0, 0, GRAY),
        rings(topDet, 0, 0),
        dots(topDet, 0, 0, GRAY),
        {
          type: 'line', xAxisIndex: 0, yAxisIndex: 0, data: radiusLimit,
          symbol: 'none', silent: true, z: 5, clip: true,
          lineStyle: { color: RED, width: 2.2 },
        },
        dots(botUnd, 4, 2, GRAY),
        rings(botDet, 4, 2),
        dots(botDet, 4, 2, '#c4c4c4'),
        {
          type: 'line', xAxisIndex: 4, yAxisIndex: 2, data: massLimit,
          symbol: 'none', silent: true, z: 5, clip: true, smooth: 0.25,
          lineStyle: { color: RED, width: 2.2 },
        },
        {
          type: 'line', xAxisIndex: 4, yAxisIndex: 2,
          data: [[SURVEY_DAYS, M_RANGE[0]], [SURVEY_DAYS, surveyMassTop]],
          symbol: 'none', silent: true, z: 5, clip: true,
          lineStyle: { color: RED, width: 1.5, type: [6, 4] },
        },
      ],
      graphic: {
        elements: [
          block(586, 141, 'Survey\nduration', 51),
          formula(440, 423, '{i|R}{s|min}{n| ~ }{i|P}{p|1/6}'),
          block(612, 948, 'Survey\nduration', 52),
          formula(338, 990, '{i|M}{s|min}{t|~}{i|P}{p|1/3}'),
          formula(699, 795, '{t|~}{i|P}{p|3/2}'),
        ],
      },
    });

    return () => chart.dispose();
  }, []);

  return (
    <div
      ref={ref}
      style={{ position: 'absolute', left: 0, top: 0, width: 907, height: 1253, background: '#fff' }}
    />
  );
}
